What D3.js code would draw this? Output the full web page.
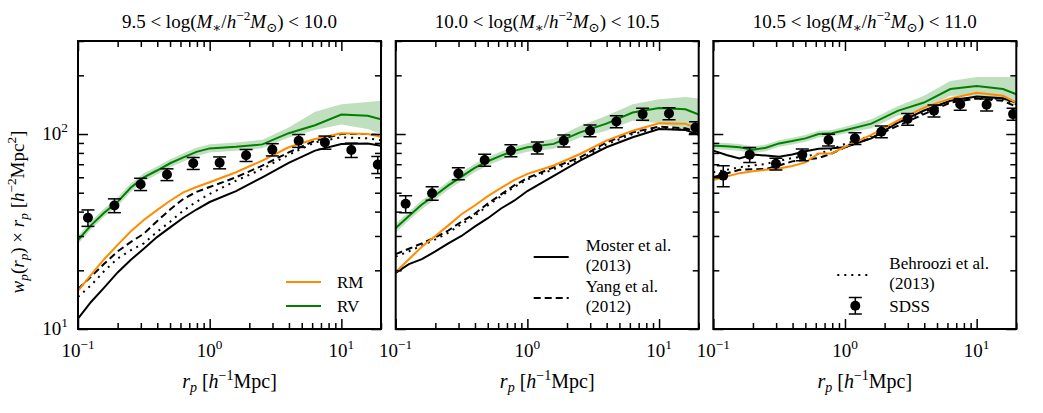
<!DOCTYPE html>
<html>
<head>
<meta charset="utf-8">
<script src="https://cdn.jsdelivr.net/npm/d3@7"></script>
<style>
  body { margin: 0; background: #fff; }
  text { font-family: "Liberation Serif", "DejaVu Serif", serif; fill: #000; }
</style>
</head>
<body>
<svg id="chart" width="1043" height="413"></svg>
<script>
// model curves are sampled on one r_p grid, SDSS points on another
const rpGrid = [0.1, 0.126, 0.158, 0.2, 0.251, 0.316, 0.398, 0.501, 0.631, 0.794, 1, 1.585, 2.512, 3.981, 6.31, 10, 15.85, 20];
const rpSdss = [0.119, 0.189, 0.299, 0.474, 0.75, 1.19, 1.89, 2.99, 4.74, 7.5, 11.9, 18.9];

const massBins = [["9.5", "10.0"], ["10.0", "10.5"], ["10.5", "11.0"]];

// panel 1 : 9.5 - 10.0
const rm1 = [15.7, 19.0, 22.8, 27.0, 31.6, 36.2, 40.7, 45.5, 50.2, 53.5, 56.6, 63.7, 73.1, 85.5, 94.3, 101, 100, 96.8];
const rv1 = [28.6, 34.1, 39.5, 44.9, 53.0, 60.0, 65.0, 70.8, 75.9, 81.0, 84.4, 86.0, 88.5, 101, 111, 126, 124, 119];
const rvLo1 = [27.3, 32.5, 37.6, 42.8, 50.5, 57.2, 62.0, 67.5, 72.3, 77.2, 80.5, 82.0, 84.5, 96, 105, 112, 106, 100];
const rvHi1 = [30.0, 35.8, 41.5, 47.2, 55.7, 63.0, 68.2, 74.3, 79.7, 85.0, 88.6, 90.5, 93.5, 108, 130, 142, 146, 148];
const moster1 = [11.3, 13.8, 16.3, 19.5, 22.6, 25.8, 29.6, 33.2, 37.2, 41.0, 44.8, 50.9, 60.0, 71.1, 82.2, 88.9, 89.5, 87];
const yang1 = [16.0, 18.6, 21.6, 25.0, 27.9, 30.8, 35.7, 41.0, 46.5, 50.5, 53.5, 60.0, 68.9, 80.5, 92.5, 100, 100, 98.6];
const behroozi1 = [14.6, 16.8, 19.8, 23.0, 25.3, 27.5, 31.5, 35.5, 40.5, 45.0, 49.3, 57.6, 66.2, 78.3, 90.6, 96.2, 95, 93];
const sdss1 = [37.2, 43.0, 55.3, 62.0, 70.8, 71.3, 77.8, 83.2, 92.4, 90.6, 82.8, 69.7];
const sdssErr1 = [3.6, 3.5, 4.0, 4.3, 5.0, 5.0, 5.5, 6.0, 7.0, 7.0, 7.0, 7.0];

// panel 2 : 10.0 - 10.5
const rm2 = [19.6, 22.8, 26.4, 30.0, 34.0, 38.8, 43.0, 48.0, 53.0, 58.0, 62.5, 69.0, 79.0, 92.5, 104, 113.5, 113, 106];
const rv2 = [33.0, 38.0, 43.5, 48.5, 54.5, 60.5, 67.0, 72.5, 77.5, 82.0, 85.5, 89.0, 102, 113, 129, 136, 134, 126];
const rvLo2 = [31.3, 36.1, 41.3, 46.1, 51.8, 57.5, 63.6, 68.9, 73.6, 77.9, 81.2, 84.0, 96, 104, 117, 114, 105, 100];
const rvHi2 = [34.7, 39.9, 45.7, 50.9, 57.2, 63.5, 70.4, 76.1, 81.4, 86.1, 89.8, 94.5, 110, 124, 142, 151, 155, 152];
const moster2 = [19.4, 21.5, 22.8, 25.0, 27.5, 30.0, 33.5, 37.0, 41.5, 45.5, 51.0, 61.0, 73.1, 85.5, 96.2, 106, 105, 99];
const yang2 = [24.2, 25.8, 27.5, 29.5, 32.0, 35.5, 39.0, 44.0, 49.0, 54.5, 59.5, 67.5, 75.9, 90.6, 102, 109, 107, 102];
const behroozi2 = [23.5, 25.0, 26.8, 28.8, 31.2, 34.5, 38.0, 43.0, 48.0, 53.5, 58.5, 66.0, 74.0, 88.5, 100, 107, 105, 100];
const sdss2 = [43.9, 49.7, 62.7, 73.6, 82.2, 85.1, 92.4, 104, 115.9, 126.5, 127.4, 108];
const sdssErr2 = [4.4, 4.0, 4.5, 5.2, 5.8, 6.0, 6.5, 7.3, 8.1, 8.9, 8.9, 7.6];

// panel 3 : 10.5 - 11.0
const rm3 = [58.0, 60.5, 63.0, 64.5, 65.5, 66.5, 68.5, 71.5, 79.5, 79.5, 86.0, 99.0, 117, 136.7, 152, 163, 157, 145];
const rv3 = [87, 86.5, 85.5, 83.0, 85.0, 89.5, 92.0, 95.0, 100, 101, 104.5, 113, 131.5, 145, 170, 176.5, 170, 160];
const rvLo3 = [83.5, 83, 82, 79.7, 81.6, 86, 88.3, 91.2, 96, 97, 100.5, 107, 124, 134, 157, 157, 148, 140];
const rvHi3 = [90.5, 90, 89, 86.3, 88.4, 93, 95.7, 98.8, 104, 105, 109, 119, 139, 157, 187, 196, 196, 196];
const moster3 = [82.2, 78.0, 75.0, 78.5, 77.5, 76.5, 78.5, 81.5, 84.0, 84.5, 85.5, 95, 114, 132, 148, 155.6, 152.7, 145];
const yang3 = [60.0, 62.8, 65.5, 66.0, 66.2, 69.0, 72.4, 74.0, 75.3, 79.5, 85.5, 95.5, 110, 126.5, 145, 152, 148, 138];
const behroozi3 = [63.7, 65.5, 67.5, 69.0, 70.3, 72.8, 75.3, 77.0, 79.0, 83.5, 88.9, 98, 114.5, 129, 148, 154, 151, 142];
const sdss3 = [61.2, 78.4, 70.3, 78.4, 93.2, 95.0, 102.8, 119.3, 131.6, 142.3, 141.2, 126.5];
const sdssErr3 = [7.5, 7.0, 4.9, 5.5, 6.5, 6.6, 7.2, 8.3, 9.2, 10.0, 9.9, 8.9];

const xMajor = [0.1, 1, 10];
const xMinor = [0.2, 0.3, 0.4, 0.5, 0.6, 0.7, 0.8, 0.9, 2, 3, 4, 5, 6, 7, 8, 9, 20];
const yMajor = [10, 100];
const yMinor = [20, 30, 40, 50, 60, 70, 80, 90, 200, 300];
const xTickExp = ["−1", "0", "1"];
const yTickExp = ["1", "2"];

const panels = [
  { rm: rm1, rv: rv1, lo: rvLo1, hi: rvHi1, moster: moster1, yang: yang1, behroozi: behroozi1, sdss: sdss1, err: sdssErr1 },
  { rm: rm2, rv: rv2, lo: rvLo2, hi: rvHi2, moster: moster2, yang: yang2, behroozi: behroozi2, sdss: sdss2, err: sdssErr2 },
  { rm: rm3, rv: rv3, lo: rvLo3, hi: rvHi3, moster: moster3, yang: yang3, behroozi: behroozi3, sdss: sdss3, err: sdssErr3 }
];

const GREEN = "#008000", ORANGE = "#ff8c00";
const DOTS = "2,5", DASHES = "7,4";
const W = 303, H = 288, TOP = 41;
const lefts = [78, 395.7, 713.3];

const svg = d3.select("#chart");

const x = d3.scaleLog().domain([0.1, 20]).range([0, W]);
const y = d3.scaleLog().domain([10, 300]).range([H, 0]);

// write math-ish text as tspans: {t, i: italic, s: 'sup'|'sub'}
function mathText(sel, parts, size) {
  let cur = 0;
  parts.forEach(p => {
    const shift = p.s === "sup" ? -0.42 * size : p.s === "sub" ? 0.22 * size : 0;
    sel.append("tspan")
       .attr("dy", shift - cur)
       .attr("font-size", p.s ? size * 0.7 : size)
       .attr("font-style", p.i ? "italic" : "normal")
       .text(p.t);
    cur = shift;
  });
  return sel;
}

const line = d3.line().x((d, i) => x(rpGrid[i])).y(d => y(d));
const band = d3.area()
  .x(d => x(d.r)).y0(d => y(d.lo)).y1(d => y(d.hi));

panels.forEach((p, k) => {
  const g = svg.append("g").attr("transform", `translate(${lefts[k]},${TOP})`);

  g.append("clipPath").attr("id", "clip" + k)
   .append("rect").attr("width", W).attr("height", H);
  const plot = g.append("g").attr("clip-path", `url(#clip${k})`);

  // RV scatter band
  plot.append("path")
      .datum(rpGrid.map((r, i) => ({ r: r, lo: p.lo[i], hi: p.hi[i] })))
      .attr("d", band)
      .attr("fill", GREEN).attr("fill-opacity", 0.25);

  const curves = [
    { v: p.moster, c: "#000", dash: null },
    { v: p.behroozi, c: "#000", dash: DOTS },
    { v: p.yang, c: "#000", dash: DASHES },
    { v: p.rm, c: ORANGE, dash: null },
    { v: p.rv, c: GREEN, dash: null }
  ];
  curves.forEach(cv => {
    plot.append("path").attr("d", line(cv.v))
        .attr("fill", "none").attr("stroke", cv.c).attr("stroke-width", 2)
        .attr("stroke-dasharray", cv.dash);
  });

  // SDSS points with error bars
  const pts = plot.append("g").selectAll("g").data(p.sdss).enter().append("g");
  pts.append("line")
     .attr("x1", (d, i) => x(rpSdss[i])).attr("x2", (d, i) => x(rpSdss[i]))
     .attr("y1", (d, i) => y(d - p.err[i])).attr("y2", (d, i) => y(d + p.err[i]))
     .attr("stroke", "#000").attr("stroke-width", 1.5);
  [-1, 1].forEach(sgn => {
    pts.append("line")
       .attr("x1", (d, i) => x(rpSdss[i]) - 6.5).attr("x2", (d, i) => x(rpSdss[i]) + 6.5)
       .attr("y1", (d, i) => y(d + sgn * p.err[i])).attr("y2", (d, i) => y(d + sgn * p.err[i]))
       .attr("stroke", "#000").attr("stroke-width", 1.5);
  });
  pts.append("circle")
     .attr("cx", (d, i) => x(rpSdss[i])).attr("cy", d => y(d)).attr("r", 5)
     .attr("fill", "#000");

  // ticks, inward on all four sides
  const tickStyle = s => s.call(a => a.select(".domain").remove())
                          .selectAll("line").attr("stroke-width", 1.5);
  const axes = [
    [d3.axisBottom(x), `translate(0,${H})`],
    [d3.axisTop(x), null],
    [d3.axisLeft(y), null],
    [d3.axisRight(y), `translate(${W},0)`]
  ];
  axes.forEach(([ax, tr], j) => {
    const isX = j < 2;
    [[isX ? xMajor : yMajor, 10], [isX ? xMinor : yMinor, 6]].forEach(([vals, len]) => {
      g.append("g").attr("transform", tr)
       .call(ax.tickValues(vals).tickSize(-len).tickFormat(""))
       .call(tickStyle);
    });
  });

  g.append("rect").attr("width", W).attr("height", H)
   .attr("fill", "none").attr("stroke", "#000").attr("stroke-width", 2);

  // x tick labels
  xMajor.forEach((v, i) => {
    mathText(g.append("text").attr("x", x(v)).attr("y", 316).attr("text-anchor", "middle"),
      [{ t: "10" }, { t: xTickExp[i], s: "sup" }], 19);
  });

  // x label
  mathText(g.append("text").attr("x", W / 2).attr("y", 347).attr("text-anchor", "middle"),
    [{ t: "r", i: true }, { t: "p", i: true, s: "sub" }, { t: "  [" }, { t: "h", i: true },
     { t: "−1", s: "sup" }, { t: "Mpc]" }], 20);

  // title
  mathText(g.append("text").attr("x", W / 2).attr("y", -13).attr("text-anchor", "middle"),
    [{ t: massBins[k][0] + " < log(" }, { t: "M", i: true }, { t: "∗", s: "sub" }, { t: "/" },
     { t: "h", i: true }, { t: "−2", s: "sup" }, { t: "M", i: true }, { t: "⊙", s: "sub" },
     { t: ") < " + massBins[k][1] }], 19);

  if (k === 0) {
    yMajor.forEach((v, i) => {
      mathText(g.append("text").attr("x", -10).attr("y", y(v) + 6).attr("text-anchor", "end"),
        [{ t: "10" }, { t: yTickExp[i], s: "sup" }], 19);
    });
    mathText(g.append("text").attr("text-anchor", "middle")
               .attr("transform", `translate(-54,${171}) rotate(-90)`),
      [{ t: "w", i: true }, { t: "p", i: true, s: "sub" }, { t: "(" }, { t: "r", i: true },
       { t: "p", i: true, s: "sub" }, { t: ") × " }, { t: "r", i: true }, { t: "p", i: true, s: "sub" },
       { t: "  [" }, { t: "h", i: true }, { t: "−2", s: "sup" }, { t: "Mpc" }, { t: "2", s: "sup" },
       { t: "]" }], 19);
  }
});

// legends
function legendLine(g, x0, yy, color, dash) {
  g.append("line").attr("x1", x0).attr("x2", x0 + 35).attr("y1", yy).attr("y2", yy)
   .attr("stroke", color).attr("stroke-width", 2).attr("stroke-dasharray", dash);
}
function legendText(g, x0, yy, txt) {
  g.append("text").attr("x", x0).attr("y", yy).attr("font-size", 17).text(txt);
}

const lg1 = svg.append("g").attr("transform", `translate(${lefts[0]},${TOP})`);
legendLine(lg1, 208, 241, ORANGE, null);
legendText(lg1, 259, 247, "RM");
legendLine(lg1, 208, 265, GREEN, null);
legendText(lg1, 259, 271, "RV");

const lg2 = svg.append("g").attr("transform", `translate(${lefts[1]},${TOP})`);
legendLine(lg2, 138, 216, "#000", null);
legendText(lg2, 190, 210, "Moster et al.");
legendText(lg2, 190, 229.5, "(2013)");
legendLine(lg2, 138, 257, "#000", DASHES);
legendText(lg2, 190, 251, "Yang et al.");
legendText(lg2, 190, 270.5, "(2012)");

const lg3 = svg.append("g").attr("transform", `translate(${lefts[2]},${TOP})`);
legendLine(lg3, 124, 234, "#000", DOTS);
legendText(lg3, 176, 228, "Behroozi et al.");
legendText(lg3, 176, 247.5, "(2013)");
lg3.append("line").attr("x1", 142).attr("x2", 142).attr("y1", 256.5).attr("y2", 273)
   .attr("stroke", "#000").attr("stroke-width", 1.5);
[256.5, 273].forEach(v => lg3.append("line").attr("x1", 135.5).attr("x2", 148.5)
   .attr("y1", v).attr("y2", v).attr("stroke", "#000").attr("stroke-width", 1.5));
lg3.append("circle").attr("cx", 142).attr("cy", 264.7).attr("r", 5).attr("fill", "#000");
legendText(lg3, 176, 270.5, "SDSS");
</script>
</body>
</html>
